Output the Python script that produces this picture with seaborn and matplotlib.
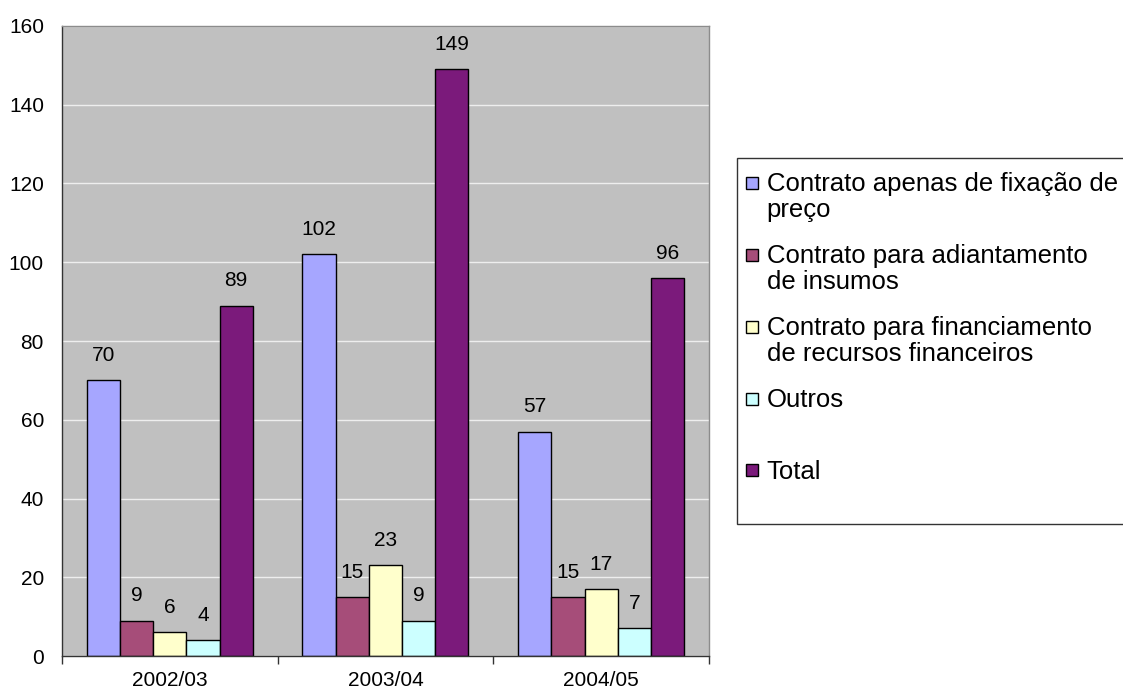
import pandas as pd
import numpy as np
import seaborn as sns
import matplotlib.pyplot as plt
import matplotlib.patches as mpatches
from matplotlib.legend_handler import HandlerPatch
from matplotlib.ticker import FixedLocator

# data
safras = ["2002/03", "2003/04", "2004/05"]
series_names = [
    "Contrato apenas de fixação de\npreço",
    "Contrato para adiantamento\nde insumos",
    "Contrato para financiamento\nde recursos financeiros",
    "Outros\n ",
    "Total\n ",
]
fixacao = [70, 102, 57]
adiantamento = [9, 15, 15]
financiamento = [6, 23, 17]
outros = [4, 9, 7]
total = [89, 149, 96]
colors = ["#A6A6FF", "#A64D79", "#FFFFCC", "#CCFFFF", "#7B1A7B"]

values = [fixacao, adiantamento, financiamento, outros, total]
df = pd.DataFrame({
    "safra": np.tile(safras, len(series_names)),
    "serie": np.repeat(series_names, len(safras)),
    "valor": np.concatenate(values),
})

sns.set_style("white")
plt.rcParams["font.family"] = ["Liberation Sans", "DejaVu Sans"]
plt.rcParams["text.color"] = "black"
plt.rcParams["xtick.color"] = "black"
plt.rcParams["ytick.color"] = "black"

LEG_FS = 18.5
LINE_SP = 1.12

fig = plt.figure(figsize=(11.23, 6.95), dpi=100)
ax = fig.add_axes([0.0552, 0.0561, 0.5761, 0.9065])
ax.set_facecolor("#C0C0C0")

sns.barplot(data=df, x="safra", y="valor", hue="serie", hue_order=series_names,
            order=safras, palette=colors, edgecolor="black", linewidth=1,
            width=0.77, saturation=1, legend=False, ax=ax)

for c in ax.containers:
    ax.bar_label(c, padding=11, fontsize=15, color="black")

ax.set_xlim(-0.5, 2.5)
ax.set_ylim(0, 160)
ax.set_yticks(range(0, 161, 20))
ax.yaxis.grid(True, color="#EEEEEE", lw=1)
ax.set_axisbelow(True)
ax.set_xlabel("")
ax.set_ylabel("")

# category ticks sit at group boundaries, labels at centres
ax.tick_params(axis="x", which="major", length=0, pad=11, labelsize=15)
ax.xaxis.set_minor_locator(FixedLocator([-0.5, 0.5, 1.5, 2.5]))
ax.tick_params(axis="x", which="minor", bottom=True, length=6, width=1,
               color="#333333", direction="out")
ax.tick_params(axis="y", length=6, width=1, color="#333333", direction="out",
               labelsize=15, pad=7)

for s in ["left", "bottom"]:
    ax.spines[s].set_color("#333333")
    ax.spines[s].set_linewidth(1)
for s in ["top", "right"]:
    ax.spines[s].set_color("#8C8C8C")
    ax.spines[s].set_linewidth(1)


# legend square next to the first line of each (two-line) label
def top_square(legend, orig_handle, xdescent, ydescent, width, height, fontsize):
    side = 0.47 * fontsize
    shift = 0.65 * fontsize
    return mpatches.Rectangle((-0.19 * fontsize, 0.04 * fontsize + shift), side, side)


handles = [c.patches[0] for c in ax.containers]
leg = fig.legend(handles, series_names, loc="upper left",
                 bbox_to_anchor=(737 / 1123, 1 - 158 / 695), borderaxespad=0,
                 fontsize=LEG_FS, frameon=True, fancybox=False, edgecolor="black",
                 handlelength=0.47, handleheight=0.47, handletextpad=0.13,
                 labelspacing=0.84, borderpad=0.55,
                 handler_map={mpatches.Rectangle: HandlerPatch(patch_func=top_square)})
leg.get_frame().set_linewidth(1)
for t in leg.get_texts():
    t.set_linespacing(LINE_SP)

fig.savefig("out.png", dpi=100)
